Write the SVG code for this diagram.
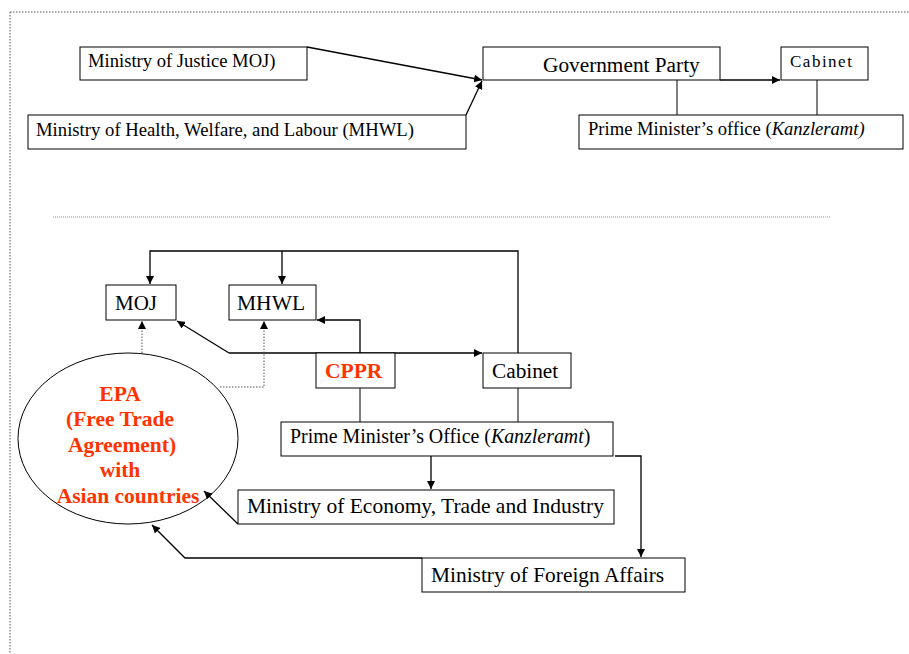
<svg xmlns="http://www.w3.org/2000/svg" width="909" height="654" viewBox="0 0 909 654">
<defs>
<marker id="ah" viewBox="0 0 10 10" refX="10" refY="5" markerWidth="8" markerHeight="8" markerUnits="userSpaceOnUse" orient="auto">
<path d="M0,0 L10,5 L0,10 z" fill="#000"/>
</marker>
<style>
.box{fill:#fff;stroke:#000;stroke-width:1}
.t{font-family:"Liberation Serif","Times New Roman",serif;fill:#000}
.r{font-family:"Liberation Serif","Times New Roman",serif;fill:#FF3300;font-weight:bold;font-size:21.5px}
.ln{fill:none;stroke:#000;stroke-width:1}
.ar{fill:none;stroke:#000;stroke-width:1.3;marker-end:url(#ah)}
.dt{fill:none;stroke:#555;stroke-width:1;stroke-dasharray:1.5 1.5}
</style>
</defs>
<rect width="909" height="654" fill="#fff"/>
<g id="frame">
<line x1="10" y1="12" x2="909" y2="12" class="dt"/>
<line x1="10" y1="12" x2="10" y2="654" class="dt"/>
<line x1="53" y1="217" x2="831" y2="217" stroke="#999" stroke-width="1" stroke-dasharray="1 1"/>
</g>
<g id="connectors">
<line x1="307" y1="47" x2="482" y2="80" class="ar"/>
<line x1="466" y1="115" x2="482" y2="81" class="ar"/>
<line x1="720" y1="80" x2="780" y2="80" class="ar"/>
<line x1="677" y1="80" x2="677" y2="115" class="ln"/>
<line x1="817" y1="80" x2="817" y2="115" class="ln"/>
<polyline points="518,353 518,251 150,251 150,284" class="ar"/>
<line x1="282" y1="251" x2="282" y2="284" class="ar"/>
<polyline points="360,353 360,320 317,320" class="ar"/>
<polyline points="229,353 177,321" class="ar"/>
<polyline points="229,353 482,353" class="ar"/>
<line x1="360" y1="388" x2="360" y2="422" class="ln"/>
<line x1="518" y1="388" x2="518" y2="422" class="ln"/>
<line x1="431" y1="456" x2="431" y2="489" class="ar"/>
<polyline points="615,456 641,456 641,557" class="ar"/>
<line x1="238" y1="524" x2="204" y2="491" class="ar"/>
<polyline points="422,558 185,558 152,525" class="ar"/>
<polyline points="142,353 142,321" fill="none" stroke="#555" stroke-dasharray="1.5 1.5" marker-end="url(#ah)"/>
<polyline points="220,387 264,387 264,321" fill="none" stroke="#555" stroke-dasharray="1.5 1.5" marker-end="url(#ah)"/>
</g>
<g id="moj-top"><rect x="80" y="47" width="227" height="33" class="box"/><text x="88" y="67" class="t" font-size="18.6">Ministry of Justice MOJ)</text></g>
<g id="mhwl-top"><rect x="28" y="115" width="438" height="34" class="box"/><text x="36" y="136" class="t" font-size="18.7">Ministry of Health, Welfare, and Labour (MHWL)</text></g>
<g id="gov-party"><rect x="483" y="47" width="237" height="33" class="box"/><text x="543" y="72" class="t" font-size="21.3">Government Party</text></g>
<g id="cabinet-top"><rect x="781" y="47" width="87" height="33" class="box"/><text x="790" y="67" class="t" font-size="17" letter-spacing="1.5">Cabinet</text></g>
<g id="pmo-top"><rect x="579" y="115" width="324" height="34" class="box"/><text x="588" y="135" class="t" font-size="18.6">Prime Minister’s office (<tspan font-style="italic">Kanzleramt)</tspan></text></g>
<g id="moj"><rect x="106" y="285" width="70" height="35" class="box"/><text x="115" y="310" class="t" font-size="21">MOJ</text></g>
<g id="mhwl"><rect x="229" y="285" width="87" height="35" class="box"/><text x="237" y="310" class="t" font-size="21.5">MHWL</text></g>
<g id="cppr"><rect x="316" y="353" width="79" height="35" class="box"/><text x="325" y="378" class="r">CPPR</text></g>
<g id="cabinet"><rect x="483" y="353" width="88" height="35" class="box"/><text x="492" y="378" class="t" font-size="21.3">Cabinet</text></g>
<g id="pmo"><rect x="281" y="422" width="332" height="34" class="box"/><text x="290" y="443" class="t" font-size="19.9">Prime Minister’s Office (<tspan font-style="italic">Kanzleramt</tspan>)</text></g>
<g id="meti"><rect x="238" y="490" width="376" height="34" class="box"/><text x="247" y="513" class="t" font-size="21.5">Ministry of Economy, Trade and Industry</text></g>
<g id="mofa"><rect x="422" y="558" width="263" height="34" class="box"/><text x="431" y="582" class="t" font-size="21.4">Ministry of Foreign Affairs</text></g>
<g id="epa"><ellipse cx="128" cy="438.5" rx="110" ry="85.5" fill="none" stroke="#000" stroke-width="1"/>
<text class="r" text-anchor="middle"><tspan x="120" y="401">EPA</tspan><tspan x="120" y="426">(Free Trade</tspan><tspan x="122" y="452">Agreement)</tspan><tspan x="120" y="477">with</tspan><tspan x="128" y="503">Asian countries</tspan></text></g>
</svg>
